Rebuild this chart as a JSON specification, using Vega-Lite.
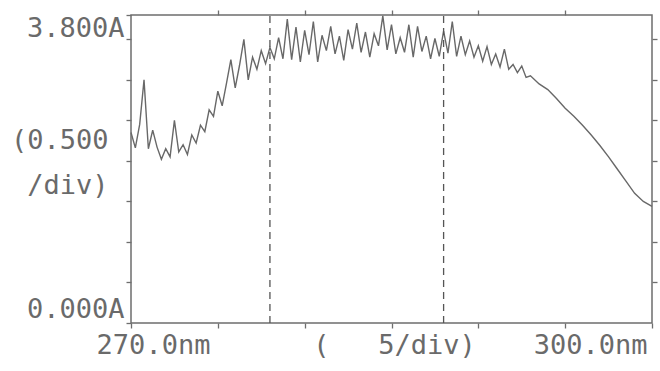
{
  "$schema": "https://vega.github.io/schema/vega-lite/v6.json",
  "width": 521,
  "height": 308,
  "autosize": "none",
  "padding": {"left": 131, "top": 15, "right": 8, "bottom": 48},
  "background": "white",
  "config": {
    "view": {"stroke": "#6e6e6e", "strokeWidth": 1.5},
    "axis": {
      "domain": false,
      "grid": false,
      "tickColor": "#6e6e6e",
      "tickWidth": 1.3,
      "tickSize": 5,
      "labelFont": "DejaVu Sans Mono",
      "labelFontSize": 27,
      "labelColor": "#6a6a6a",
      "labelOverlap": false,
      "labelFlush": false,
      "labelBound": false,
      "titleFont": "DejaVu Sans Mono",
      "titleFontSize": 27,
      "titleFontWeight": "normal",
      "titleColor": "#6a6a6a"
    }
  },
  "resolve": {"axis": {"x": "independent", "y": "independent"}},
  "layer": [
    {
      "data": {
        "values": [
          {"nm": 270.0, "abs": 2.35}, {"nm": 270.25, "abs": 2.16}, {"nm": 270.5, "abs": 2.45}, {"nm": 270.75, "abs": 3.0},
          {"nm": 271.0, "abs": 2.15}, {"nm": 271.25, "abs": 2.38}, {"nm": 271.5, "abs": 2.17}, {"nm": 271.75, "abs": 2.02},
          {"nm": 272.0, "abs": 2.15}, {"nm": 272.25, "abs": 2.05}, {"nm": 272.5, "abs": 2.5}, {"nm": 272.75, "abs": 2.11},
          {"nm": 273.0, "abs": 2.2}, {"nm": 273.25, "abs": 2.08}, {"nm": 273.5, "abs": 2.32}, {"nm": 273.75, "abs": 2.22},
          {"nm": 274.0, "abs": 2.44}, {"nm": 274.25, "abs": 2.36}, {"nm": 274.5, "abs": 2.63}, {"nm": 274.75, "abs": 2.55},
          {"nm": 275.0, "abs": 2.86}, {"nm": 275.25, "abs": 2.68}, {"nm": 275.5, "abs": 2.96}, {"nm": 275.75, "abs": 3.25},
          {"nm": 276.0, "abs": 2.9}, {"nm": 276.25, "abs": 3.18}, {"nm": 276.5, "abs": 3.5}, {"nm": 276.75, "abs": 3.0},
          {"nm": 277.0, "abs": 3.28}, {"nm": 277.25, "abs": 3.13}, {"nm": 277.5, "abs": 3.36}, {"nm": 277.75, "abs": 3.2},
          {"nm": 278.0, "abs": 3.4}, {"nm": 278.25, "abs": 3.26}, {"nm": 278.5, "abs": 3.52}, {"nm": 278.75, "abs": 3.26},
          {"nm": 279.0, "abs": 3.75}, {"nm": 279.25, "abs": 3.25}, {"nm": 279.5, "abs": 3.65}, {"nm": 279.75, "abs": 3.22},
          {"nm": 280.0, "abs": 3.61}, {"nm": 280.25, "abs": 3.31}, {"nm": 280.5, "abs": 3.72}, {"nm": 280.75, "abs": 3.22},
          {"nm": 281.0, "abs": 3.55}, {"nm": 281.25, "abs": 3.36}, {"nm": 281.5, "abs": 3.66}, {"nm": 281.75, "abs": 3.32},
          {"nm": 282.0, "abs": 3.54}, {"nm": 282.25, "abs": 3.24}, {"nm": 282.5, "abs": 3.62}, {"nm": 282.75, "abs": 3.38},
          {"nm": 283.0, "abs": 3.7}, {"nm": 283.25, "abs": 3.34}, {"nm": 283.5, "abs": 3.59}, {"nm": 283.75, "abs": 3.28},
          {"nm": 284.0, "abs": 3.57}, {"nm": 284.25, "abs": 3.42}, {"nm": 284.5, "abs": 3.79}, {"nm": 284.75, "abs": 3.37},
          {"nm": 285.0, "abs": 3.68}, {"nm": 285.25, "abs": 3.32}, {"nm": 285.5, "abs": 3.52}, {"nm": 285.75, "abs": 3.34},
          {"nm": 286.0, "abs": 3.68}, {"nm": 286.25, "abs": 3.28}, {"nm": 286.5, "abs": 3.66}, {"nm": 286.75, "abs": 3.35},
          {"nm": 287.0, "abs": 3.54}, {"nm": 287.25, "abs": 3.26}, {"nm": 287.5, "abs": 3.51}, {"nm": 287.75, "abs": 3.29},
          {"nm": 288.0, "abs": 3.6}, {"nm": 288.25, "abs": 3.33}, {"nm": 288.5, "abs": 3.72}, {"nm": 288.75, "abs": 3.29},
          {"nm": 289.0, "abs": 3.54}, {"nm": 289.25, "abs": 3.31}, {"nm": 289.5, "abs": 3.48}, {"nm": 289.75, "abs": 3.28},
          {"nm": 290.0, "abs": 3.42}, {"nm": 290.25, "abs": 3.23}, {"nm": 290.5, "abs": 3.41}, {"nm": 290.75, "abs": 3.19},
          {"nm": 291.0, "abs": 3.32}, {"nm": 291.25, "abs": 3.16}, {"nm": 291.5, "abs": 3.38}, {"nm": 291.75, "abs": 3.13},
          {"nm": 292.0, "abs": 3.19}, {"nm": 292.25, "abs": 3.09}, {"nm": 292.5, "abs": 3.17}, {"nm": 292.75, "abs": 3.03},
          {"nm": 293.0, "abs": 3.05}, {"nm": 293.5, "abs": 2.95}, {"nm": 294.0, "abs": 2.88}, {"nm": 294.5, "abs": 2.77},
          {"nm": 295.0, "abs": 2.65}, {"nm": 295.5, "abs": 2.55}, {"nm": 296.0, "abs": 2.44}, {"nm": 296.5, "abs": 2.32},
          {"nm": 297.0, "abs": 2.19}, {"nm": 297.5, "abs": 2.05}, {"nm": 298.0, "abs": 1.9}, {"nm": 298.5, "abs": 1.75},
          {"nm": 299.0, "abs": 1.6}, {"nm": 299.5, "abs": 1.5}, {"nm": 300.0, "abs": 1.44}
        ]
      },
      "mark": {"type": "line", "color": "#686868", "strokeWidth": 1.4},
      "encoding": {
        "x": {
          "field": "nm", "type": "quantitative",
          "scale": {"domain": [270, 300], "nice": false, "zero": false},
          "axis": {
            "orient": "bottom",
            "values": [270, 275, 280, 285, 290, 295, 300],
            "labelExpr": "datum.value == 270 ? '270.0nm' : datum.value == 300 ? '300.0nm' : ''",
            "labelAlign": {"condition": {"test": "datum.value == 270", "value": "center"}, "value": "right"},
            "labelOffset": {"condition": {"test": "datum.value == 270", "value": 22}, "value": -5},
            "labelBaseline": "top",
            "labelPadding": 4,
            "title": "(\u00a0\u00a0\u00a05/div)",
            "titleAlign": "center",
            "titleBaseline": "top",
            "titleX": 263,
            "titleY": 9
          }
        },
        "y": {
          "field": "abs", "type": "quantitative",
          "scale": {"domain": [0, 3.8], "nice": false},
          "axis": {
            "orient": "left",
            "values": [0, 0.5, 1, 1.5, 2, 2.5, 3, 3.5, 3.8],
            "labelExpr": "datum.value == 0 ? '0.000A' : datum.value == 3.8 ? '3.800A' : ''",
            "labelBaseline": {"condition": {"test": "datum.value == 0", "value": "bottom"}, "value": "top"},
            "labelPadding": 2,
            "title": ["(0.500", "/div)"],
            "titleAngle": 0,
            "titleAlign": "right",
            "titleBaseline": "top",
            "titleX": -23,
            "titleY": 112,
            "titleLineHeight": 45
          }
        }
      }
    },
    {
      "data": {"values": [{"nm": 278}, {"nm": 288}]},
      "mark": {"type": "rule", "color": "#555555", "strokeWidth": 1.3, "strokeDash": [7, 5]},
      "encoding": {
        "x": {
          "field": "nm", "type": "quantitative",
          "axis": {"orient": "top", "values": [275, 280, 285, 290, 295], "labels": false, "title": null}
        },
        "y": {
          "datum": 0, "type": "quantitative",
          "axis": {"orient": "right", "values": [0.5, 1, 1.5, 2, 2.5, 3, 3.5], "labels": false, "title": null}
        },
        "y2": {"datum": 3.8}
      }
    }
  ]
}
